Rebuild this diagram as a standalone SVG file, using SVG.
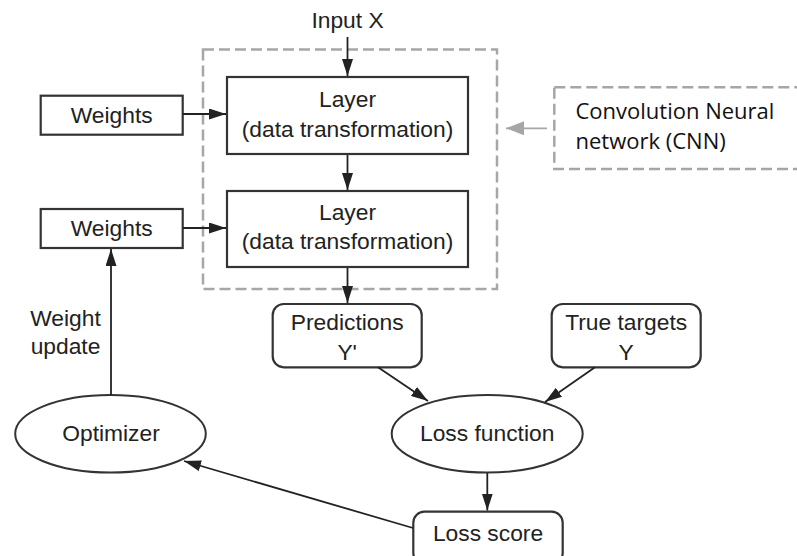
<svg xmlns="http://www.w3.org/2000/svg" width="797" height="556" viewBox="0 0 797 556">
  <defs>
    <marker id="ah" markerUnits="userSpaceOnUse" markerWidth="17" markerHeight="11" refX="17" refY="5.5" orient="auto">
      <path d="M0,0 L17,5.5 L0,11 z" fill="#222222"/>
    </marker>
    <marker id="ahg" markerUnits="userSpaceOnUse" markerWidth="18" markerHeight="14" refX="18" refY="7" orient="auto">
      <path d="M0,0 L18,7 L0,14 z" fill="#a6a6a6"/>
    </marker>
    <style>
      .box { fill: #ffffff; stroke: #333333; stroke-width: 2.2; }
      .ell { fill: #ffffff; stroke: #333333; stroke-width: 2; }
      .dash { fill: none; stroke: #a6a6a6; stroke-width: 2.5; stroke-dasharray: 11 5; }
      .t { font-family: "Liberation Sans", Arial, Helvetica, sans-serif; font-size: 22.8px; fill: #222222; text-anchor: middle; }
      .tc { font-family: "Open Sans", "Noto Sans", sans-serif; font-size: 22px; fill: #111111; }
      .c { fill: none; stroke: #222222; stroke-width: 1.8; marker-end: url(#ah); }
      .cg { fill: none; stroke: #a6a6a6; stroke-width: 1.8; marker-end: url(#ahg); }
    </style>
  </defs>

  <rect x="0" y="0" width="797" height="556" fill="#ffffff"/>

  <g id="cnn-group">
    <rect class="dash" x="203" y="49.5" width="294" height="239.5"/>
  </g>

  <g id="cnn-label">
    <rect class="dash" x="554.3" y="87.3" width="260" height="81.7"/>
    <text class="tc" x="575.5" y="119">Convolution Neural</text>
    <text class="tc" x="575.5" y="149">network (CNN)</text>
  </g>

  <g id="input-x">
    <text class="t" x="347.5" y="28">Input X</text>
  </g>

  <g id="layer1">
    <rect class="box" x="227" y="77" width="241" height="77"/>
    <text class="t" x="347.5" y="107">Layer</text>
    <text class="t" x="347.5" y="137">(data transformation)</text>
  </g>

  <g id="layer2">
    <rect class="box" x="227" y="191" width="241" height="76"/>
    <text class="t" x="347.5" y="220">Layer</text>
    <text class="t" x="347.5" y="249">(data transformation)</text>
  </g>

  <g id="weights1">
    <rect class="box" x="40.7" y="95.7" width="142" height="39"/>
    <text class="t" x="111.7" y="122.7">Weights</text>
  </g>

  <g id="weights2">
    <rect class="box" x="40.7" y="209" width="142" height="39"/>
    <text class="t" x="111.7" y="236">Weights</text>
  </g>

  <g id="weight-update-label">
    <text class="t" x="65.5" y="325.7">Weight</text>
    <text class="t" x="65.5" y="354">update</text>
  </g>

  <g id="predictions">
    <rect class="box" x="272.7" y="304" width="149" height="63.3" rx="11" ry="11"/>
    <text class="t" x="347.2" y="330">Predictions</text>
    <text class="t" x="347.2" y="360">Y'</text>
  </g>

  <g id="true-targets">
    <rect class="box" x="551.7" y="304" width="149" height="63.3" rx="11" ry="11"/>
    <text class="t" x="626.2" y="330">True targets</text>
    <text class="t" x="626.2" y="360">Y</text>
  </g>

  <g id="optimizer">
    <ellipse class="ell" cx="110.5" cy="433.8" rx="95.3" ry="38.8"/>
    <text class="t" x="111" y="440.5">Optimizer</text>
  </g>

  <g id="loss-function">
    <ellipse class="ell" cx="487.2" cy="433.8" rx="95.5" ry="38.8"/>
    <text class="t" x="487.2" y="440.7">Loss function</text>
  </g>

  <g id="loss-score">
    <rect class="box" x="413.3" y="511.7" width="149.4" height="52" rx="11" ry="11"/>
    <text class="t" x="488" y="540.7">Loss score</text>
  </g>

  <g id="connectors">
    <line class="c" x1="347.5" y1="37" x2="347.5" y2="76"/>
    <line class="c" x1="347.5" y1="155" x2="347.5" y2="190"/>
    <line class="c" x1="183" y1="114" x2="226" y2="114"/>
    <line class="c" x1="183" y1="228" x2="226" y2="228"/>
    <line class="c" x1="347.5" y1="268" x2="347.5" y2="303"/>
    <line class="c" x1="378" y1="367.3" x2="428" y2="401"/>
    <line class="c" x1="595" y1="367.3" x2="545" y2="402"/>
    <line class="c" x1="487.3" y1="473" x2="487.3" y2="510.5"/>
    <line class="c" x1="413" y1="528" x2="184" y2="461"/>
    <line class="c" x1="111" y1="395" x2="111" y2="249"/>
    <line class="cg" x1="547" y1="128.3" x2="506" y2="128.3"/>
  </g>
</svg>
